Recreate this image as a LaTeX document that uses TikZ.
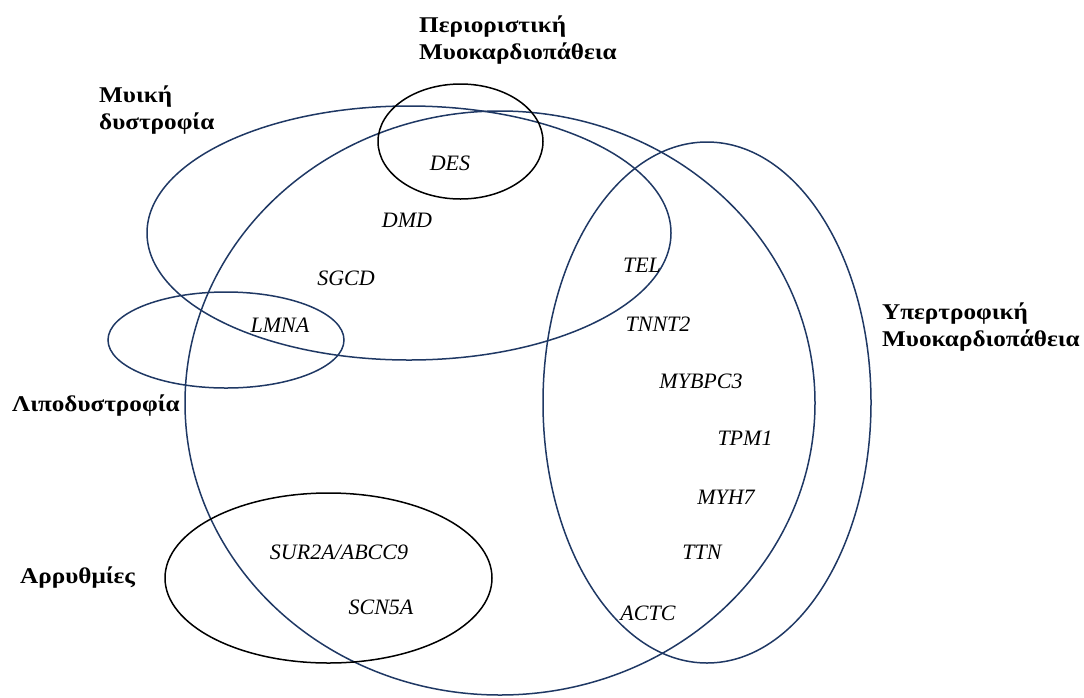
\documentclass[tikz,border=0pt]{standalone}
\usepackage{fontspec}
\setmainfont{Liberation Serif}
\newfontfamily\labelfont[FakeStretch=1.12]{Liberation Serif}
\usetikzlibrary{shapes.geometric}
\definecolor{navy}{RGB}{31,56,100}
\begin{document}
\begin{tikzpicture}[x=1pt,y=-1pt,
  setshape/.style={ellipse, draw=navy, line width=1.5pt, inner sep=0pt},
  blackset/.style={setshape, draw=black},
  gene/.style={font=\fontsize{22}{25}\selectfont\itshape, anchor=base, inner sep=0pt},
  grouplabel/.style={font=\labelfont\fontsize{22.5}{27}\selectfont\bfseries, align=left, anchor=base west, inner sep=0pt}]
\useasboundingbox (0,0) rectangle (1084,697);
% sets
\node[setshape, minimum width=630pt, minimum height=584pt] (big) at (500,403) {};
\node[setshape, minimum width=524pt, minimum height=254pt] (muscular) at (409,233) {};
\node[setshape, minimum width=236pt, minimum height=96pt] (lipo) at (226,340) {};
\node[setshape, minimum width=328pt, minimum height=521pt] (hyper) at (707,402.5) {};
\node[blackset, minimum width=165pt, minimum height=115pt] (restr) at (460.5,141.5) {};
\node[blackset, minimum width=327pt, minimum height=170pt] (arrh) at (328.5,578) {};
% group labels (anchor at last line's baseline)
\node[grouplabel] (lrestr) at (419,59) {Περιοριστική\\Μυοκαρδιοπάθεια};
\node[grouplabel] (lmusc) at (99,129) {Μυική\\δυστροφία};
\node[grouplabel] (llipo) at (12,411) {Λιποδυστροφία};
\node[grouplabel] (larrh) at (20,583) {Αρρυθμίες};
\node[grouplabel] (lhyper) at (882,346) {Υπερτροφική\\Μυοκαρδιοπάθεια};
% genes
\node[gene] (des) at (450,170) {DES};
\node[gene] (dmd) at (407,227) {DMD};
\node[gene] (sgcd) at (346,285) {SGCD};
\node[gene] (lmna) at (280,332) {LMNA};
\node[gene] (tel) at (642,272) {TEL};
\node[gene] (tnnt) at (658,331) {TNNT2};
\node[gene] (mybpc) at (701,388) {MYBPC3};
\node[gene] (tpm) at (745,445) {TPM1};
\node[gene] (myh) at (726,504) {MYH7};
\node[gene] (ttn) at (702,559) {TTN};
\node[gene] (actc) at (648,620) {ACTC};
\node[gene] (sur) at (339,559) {SUR2A/ABCC9};
\node[gene] (scn) at (381,614) {SCN5A};
\end{tikzpicture}
\end{document}
